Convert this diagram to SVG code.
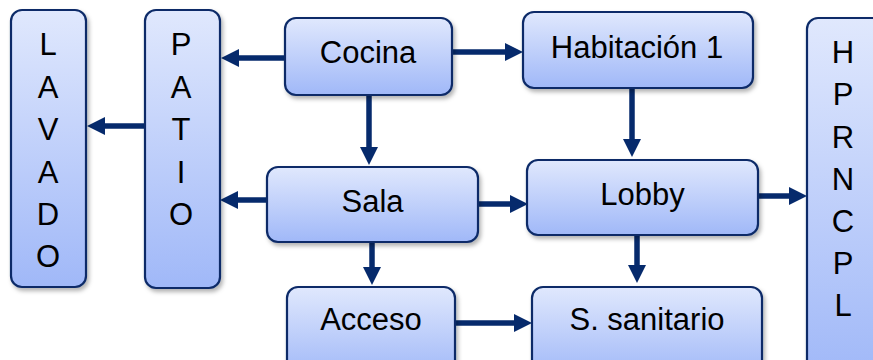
<svg xmlns="http://www.w3.org/2000/svg" width="873" height="360" viewBox="0 0 873 360">
  <defs>
    <linearGradient id="boxFill" x1="0" y1="0" x2="0" y2="1">
      <stop offset="0" stop-color="#e0e8fd"/>
      <stop offset="1" stop-color="#a0b8f8"/>
    </linearGradient>
    <filter id="shadow" x="-10%" y="-10%" width="130%" height="130%">
      <feDropShadow dx="2" dy="3" stdDeviation="2" flood-color="#000" flood-opacity="0.3"/>
    </filter>
    <marker id="head" markerUnits="userSpaceOnUse" markerWidth="18" markerHeight="18" viewBox="0 0 18 18" refX="1" refY="9" orient="auto">
      <path d="M0,0 L18,9 L0,18 z" fill="#062a6c"/>
    </marker>
  </defs>
  <style>
    .box { fill: url(#boxFill); stroke: #0b2a68; stroke-width: 2.2; filter: url(#shadow); }
    .lbl { font-family: "Liberation Sans", Arial, sans-serif; font-size: 31px; fill: #000; text-anchor: middle; }
    .conn { stroke: #062a6c; stroke-width: 5.5; fill: none; marker-end: url(#head); }
  </style>

  <!-- connectors -->
  <g id="connectors">
    <line class="conn" x1="285" y1="58" x2="238" y2="58"/>
    <line class="conn" x1="145" y1="126" x2="104" y2="126"/>
    <line class="conn" x1="452" y1="52" x2="506" y2="52"/>
    <line class="conn" x1="369" y1="95" x2="369" y2="148"/>
    <line class="conn" x1="632" y1="88" x2="632" y2="140"/>
    <line class="conn" x1="267" y1="200" x2="237" y2="200"/>
    <line class="conn" x1="478" y1="204" x2="511" y2="204"/>
    <line class="conn" x1="758" y1="196" x2="790" y2="196"/>
    <line class="conn" x1="372" y1="242" x2="372" y2="268"/>
    <line class="conn" x1="637" y1="235" x2="637" y2="266"/>
    <line class="conn" x1="455" y1="323" x2="515" y2="323"/>
  </g>

  <!-- nodes -->
  <g id="lavado">
    <rect class="box" x="11" y="10" width="75" height="277" rx="11"/>
    <text class="lbl" x="48" y="55">L</text>
    <text class="lbl" x="48" y="98">A</text>
    <text class="lbl" x="48" y="140">V</text>
    <text class="lbl" x="48" y="183">A</text>
    <text class="lbl" x="48" y="225">D</text>
    <text class="lbl" x="48" y="267">O</text>
  </g>
  <g id="patio">
    <rect class="box" x="145" y="10" width="75" height="278" rx="11"/>
    <text class="lbl" x="181" y="55">P</text>
    <text class="lbl" x="181" y="98">A</text>
    <text class="lbl" x="181" y="140">T</text>
    <text class="lbl" x="181" y="183">I</text>
    <text class="lbl" x="181" y="225">O</text>
  </g>
  <g id="cocina">
    <rect class="box" x="285" y="18" width="167" height="77" rx="11"/>
    <text class="lbl" x="368" y="63">Cocina</text>
  </g>
  <g id="habitacion">
    <rect class="box" x="523" y="12" width="230" height="76" rx="11"/>
    <text class="lbl" x="637" y="58">Habitación 1</text>
  </g>
  <g id="hprncpl">
    <rect class="box" x="807" y="18" width="90" height="360" rx="11"/>
    <text class="lbl" x="843" y="63">H</text>
    <text class="lbl" x="843" y="105">P</text>
    <text class="lbl" x="843" y="148">R</text>
    <text class="lbl" x="843" y="190">N</text>
    <text class="lbl" x="843" y="232">C</text>
    <text class="lbl" x="843" y="274">P</text>
    <text class="lbl" x="843" y="316">L</text>
  </g>
  <g id="sala">
    <rect class="box" x="267" y="167" width="211" height="75" rx="11"/>
    <text class="lbl" x="372.5" y="212">Sala</text>
  </g>
  <g id="lobby">
    <rect class="box" x="527" y="160" width="231" height="75" rx="11"/>
    <text class="lbl" x="642.5" y="205">Lobby</text>
  </g>
  <g id="acceso">
    <rect class="box" x="287" y="287" width="168" height="90" rx="11"/>
    <text class="lbl" x="371" y="330">Acceso</text>
  </g>
  <g id="sanitario">
    <rect class="box" x="532" y="287" width="230" height="90" rx="11"/>
    <text class="lbl" x="647" y="330">S. sanitario</text>
  </g>
</svg>
